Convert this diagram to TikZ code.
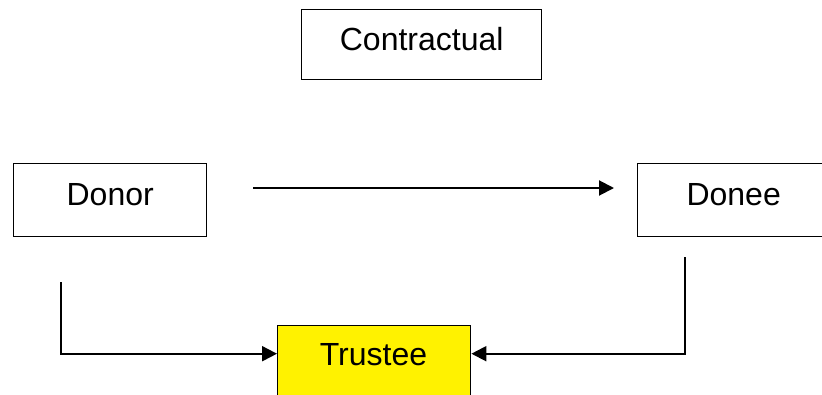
\documentclass[tikz,border=0pt]{standalone}
\usepackage{fontspec}
\setmainfont{Liberation Sans}
\usetikzlibrary{arrows.meta}
\begin{document}
\begin{tikzpicture}[x=1pt,y=-1pt,
  box/.style={draw, line width=1.4pt, inner sep=0pt, anchor=north west},
  conn/.style={draw, line width=2pt},
  arr/.style={conn, -{Triangle[length=15pt,width=15pt]}},
  lbl/.style={font=\fontsize{32}{38}\selectfont, inner sep=0pt}]
\useasboundingbox (0,0) rectangle (822,394);
\clip (0,0) rectangle (822,394);
\fill[white] (0,0) rectangle (822,394);
\node[box, minimum width=240pt, minimum height=70pt] (contract) at (301,9) {};
\node[lbl] (contracttext) at ([yshift=6pt]contract.center) {Contractual};
\node[box, minimum width=193pt, minimum height=73pt] (donor) at (13,163) {};
\node[lbl] (donortext) at ([yshift=6pt]donor.center) {Donor};
\node[box, minimum width=192pt, minimum height=73pt] (donee) at (637,163) {};
\node[lbl] (doneetext) at ([yshift=6pt]donee.center) {Donee};
\node[box, fill=yellow, minimum width=193pt, minimum height=80pt] (trustee) at (277,325) {};
\node[lbl] (trusteetext) at (373.5,355) {Trustee};
\coordinate (a1) at (253,188);
\coordinate (a2) at (614,188);
\draw[arr] (a1) -- (a2);
\coordinate (c1) at (61,282);
\coordinate (c2) at (685,257);
\draw[arr] (c1) |- ([yshift=12pt]trustee.west);
\draw[arr] (c2) |- ([yshift=12pt]trustee.east);
\end{tikzpicture}
\end{document}
